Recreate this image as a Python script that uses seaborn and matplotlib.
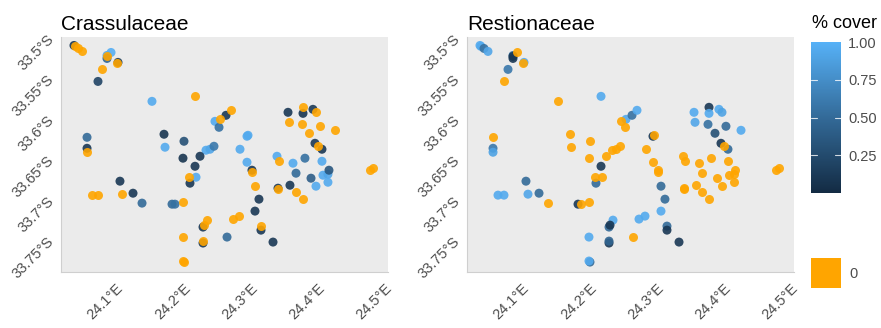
import matplotlib
matplotlib.use("Agg")
import matplotlib.pyplot as plt
import pandas as pd
import seaborn as sns
from matplotlib.colors import LinearSegmentedColormap, Normalize
from matplotlib.cm import ScalarMappable
from matplotlib.patches import Rectangle

# Survey plots: longitude, latitude and fractional cover of each family
families = ["Crassulaceae", "Restionaceae"]

lon = [24.0375, 24.0390, 24.0435, 24.0494, 24.0866, 24.0926, 24.0866, 24.0866,
       24.1030, 24.1015, 24.0792, 24.0732, 24.1535, 24.2175, 24.0569, 24.0569,
       24.0569, 24.1714, 24.1729, 24.2011, 24.1996, 24.2338, 24.2398, 24.2457,
       24.2472, 24.2532, 24.2546, 24.2636, 24.2710, 24.3558, 24.3573, 24.3781,
       24.3781, 24.3929, 24.3974, 24.3766, 24.4033, 24.3870, 24.4257, 24.3959,
       24.4004, 24.4063, 24.2948, 24.2963, 24.2844, 24.2249, 24.3394, 24.3424,
       24.3810, 24.4063, 24.2175, 24.2086, 24.2190, 24.2100, 24.1059, 24.0643,
       24.0732, 24.1089, 24.1253, 24.1387, 24.1833, 24.1877, 24.1996, 24.2294,
       24.2353, 24.2309, 24.1996, 24.2294, 24.2294, 24.2011, 24.1996, 24.2651,
       24.2740, 24.2829, 24.2948, 24.3022, 24.3022, 24.3067, 24.3126, 24.3067,
       24.3409, 24.3409, 24.3587, 24.3632, 24.3677, 24.3677, 24.3781, 24.3900,
       24.3974, 24.4078, 24.4152, 24.4152, 24.4167, 24.4777, 24.4822, 24.3156,
       24.3156, 24.3335]

lat = [-33.5099, -33.5111, -33.5136, -33.5173, -33.5223, -33.5186, -33.5260, -33.5235,
       -33.5309, -33.5322, -33.5396, -33.5545, -33.5792, -33.5730, -33.6238, -33.6374,
       -33.6423, -33.6200, -33.6361, -33.6287, -33.6497, -33.6398, -33.6386, -33.6349,
       -33.6040, -33.6114, -33.6015, -33.5965, -33.5903, -33.5928, -33.6052, -33.5866,
       -33.5941, -33.5891, -33.5928, -33.6077, -33.6101, -33.6188, -33.6151, -33.6312,
       -33.6349, -33.6386, -33.6225, -33.6213, -33.6386, -33.6473, -33.6473, -33.6535,
       -33.6497, -33.6535, -33.6597, -33.6733, -33.6733, -33.6807, -33.6782, -33.6955,
       -33.6955, -33.6943, -33.6931, -33.7054, -33.7067, -33.7067, -33.7042, -33.7351,
       -33.7265, -33.7327, -33.7475, -33.7549, -33.7525, -33.7785, -33.7772, -33.7475,
       -33.7252, -33.7215, -33.6547, -33.6646, -33.6671, -33.6844, -33.7005, -33.7153,
       -33.6869, -33.6881, -33.6832, -33.6559, -33.6683, -33.6918, -33.7005, -33.6745,
       -33.6844, -33.6708, -33.6696, -33.6795, -33.6646, -33.6646, -33.6621, -33.7339,
       -33.7389, -33.7537]

cover_crassulaceae = [
    0.10, 0.00, 0.00, 0.00, 0.95, 0.98, 0.45, 0.00,
    0.15, 0.00, 0.00, 0.20, 0.95, 0.00, 0.50, 0.10,
    0.00, 0.08, 0.95, 0.30, 0.08, 0.95, 0.92, 0.60,
    0.95, 0.55, 0.00, 0.10, 0.00, 0.10, 0.00, 0.00,
    0.08, 0.12, 0.00, 0.00, 0.00, 0.00, 0.00, 0.12,
    0.00, 0.10, 0.95, 0.95, 0.95, 0.10, 0.95, 0.00,
    0.55, 0.95, 0.10, 0.00, 0.95, 0.10, 0.10, 0.00,
    0.00, 0.00, 0.10, 0.50, 0.50, 0.55, 0.00, 0.10,
    0.00, 0.00, 0.00, 0.10, 0.00, 0.00, 0.00, 0.50,
    0.00, 0.00, 0.95, 0.10, 0.00, 0.00, 0.10, 0.10,
    0.10, 0.00, 0.10, 0.95, 0.50, 0.00, 0.00, 0.40,
    0.95, 0.95, 0.92, 0.95, 0.35, 0.00, 0.00, 0.00,
    0.10, 0.10]

cover_restionaceae = [
    0.95, 0.95, 0.55, 0.92, 0.55, 0.00, 0.10, 0.10,
    0.95, 0.00, 0.60, 0.00, 0.00, 0.95, 0.00, 0.60,
    0.90, 0.00, 0.00, 0.00, 0.00, 0.00, 0.00, 0.00,
    0.00, 0.00, 0.95, 0.55, 0.95, 0.95, 0.92, 0.10,
    0.95, 0.95, 0.90, 0.55, 0.50, 0.30, 0.95, 0.10,
    0.00, 0.50, 0.10, 0.00, 0.00, 0.00, 0.00, 0.00,
    0.00, 0.00, 0.10, 0.00, 0.00, 0.50, 0.50, 0.95,
    0.95, 0.92, 0.50, 0.00, 0.10, 0.00, 0.00, 0.50,
    0.95, 0.10, 0.95, 0.10, 0.45, 0.50, 0.95, 0.00,
    0.95, 0.95, 0.00, 0.00, 0.00, 0.50, 0.50, 0.95,
    0.00, 0.00, 0.00, 0.00, 0.00, 0.00, 0.00, 0.00,
    0.00, 0.00, 0.00, 0.00, 0.00, 0.00, 0.00, 0.50,
    0.10, 0.10]

lon_ticks = [24.1, 24.2, 24.3, 24.4, 24.5]
lon_labels = ["24.1°E", "24.2°E", "24.3°E", "24.4°E", "24.5°E"]
lat_ticks = [-33.5, -33.55, -33.6, -33.65, -33.7, -33.75]
lat_labels = ["33.5°S", "33.55°S", "33.6°S", "33.65°S", "33.7°S", "33.75°S"]
cbar_ticks = [0.25, 0.5, 0.75, 1.0]
cbar_labels = ["0.25", "0.50", "0.75", "1.00"]
absent_label = "0"

df = pd.concat([
    pd.DataFrame({"family": families[0], "lon": lon, "lat": lat, "cover": cover_crassulaceae}),
    pd.DataFrame({"family": families[1], "lon": lon, "lat": lat, "cover": cover_restionaceae}),
], ignore_index=True)

sns.set_style("white", {"axes.facecolor": "#EBEBEB", "axes.grid": False})
plt.rcParams["font.family"] = ["Liberation Sans", "DejaVu Sans"]

cmap = LinearSegmentedColormap.from_list("cover", ["#132B43", "#336A98", "#56B1F7"])
absent_color = "#FFA500"
text_grey = "#4D4D4D"

fig = plt.figure(figsize=(8.81, 3.28), dpi=100)
W, H = 881, 328
panel_left = [61, 467]
top_px, bottom_px, width_px = 36.5, 272, 327

for fam, xl in zip(families, panel_left):
    ax = fig.add_axes([xl / W, (H - bottom_px) / H, width_px / W, (bottom_px - top_px) / H])
    sub = df[df["family"] == fam]
    present = sub[sub["cover"] > 0]
    absent = sub[sub["cover"] == 0]
    sns.scatterplot(data=present, x="lon", y="lat", hue="cover", palette=cmap,
                    hue_norm=(0, 1), s=42, alpha=0.9, linewidth=0,
                    legend=False, ax=ax)
    sns.scatterplot(data=absent, x="lon", y="lat", color=absent_color,
                    s=42, alpha=0.9, linewidth=0, legend=False, ax=ax)
    ax.set_xlim(24.0182, 24.5045)
    ax.set_ylim(-33.7908, -33.4988)
    ax.set_xticks(lon_ticks)
    ax.set_xticklabels(lon_labels, rotation=45, ha="right", va="top",
                       rotation_mode="anchor", color=text_grey, fontsize=10.5)
    ax.set_yticks(lat_ticks)
    ax.set_yticklabels(lat_labels, rotation=45, ha="right", va="center",
                       rotation_mode="anchor", color=text_grey, fontsize=10.5)
    ax.tick_params(axis="both", length=3.5, width=1, color="#333333", pad=3)
    ax.set_xlabel("")
    ax.set_ylabel("")
    for side in ["top", "right"]:
        ax.spines[side].set_visible(False)
    for side in ["left", "bottom"]:
        ax.spines[side].set_color("#CFCFCF")
        ax.spines[side].set_linewidth(0.8)
    ax.set_title(fam, loc="left", fontsize=15, pad=5, color="black")

# Continuous colour bar for cover
cax = fig.add_axes([811 / W, (H - 193) / H, 30 / W, 151 / H])
sm = ScalarMappable(norm=Normalize(0, 1), cmap=cmap)
cb = fig.colorbar(sm, cax=cax)
cb.outline.set_visible(False)
cb.set_ticks(cbar_ticks)
cb.set_ticklabels(cbar_labels)
cax.tick_params(length=0, pad=5, labelsize=10.5, labelcolor=text_grey)
for t in cbar_ticks[:-1]:
    cax.plot([0, 0.2], [t, t], color="white", lw=0.8, alpha=0.8, transform=cax.get_yaxis_transform())
    cax.plot([0.8, 1.0], [t, t], color="white", lw=0.8, alpha=0.8, transform=cax.get_yaxis_transform())
fig.text(812 / W, 1 - 23 / H, "% cover", fontsize=13, ha="left", va="center", color="black")

# Key for plots where the family is absent
fig.patches.append(Rectangle((811 / W, (H - 288) / H), 30 / W, 30 / H,
                             transform=fig.transFigure, facecolor=absent_color,
                             edgecolor="none"))
fig.text(849 / W, 1 - 274 / H, absent_label, fontsize=10.5, ha="left", va="center",
         color=text_grey)

fig.savefig("out.png", dpi=100)
